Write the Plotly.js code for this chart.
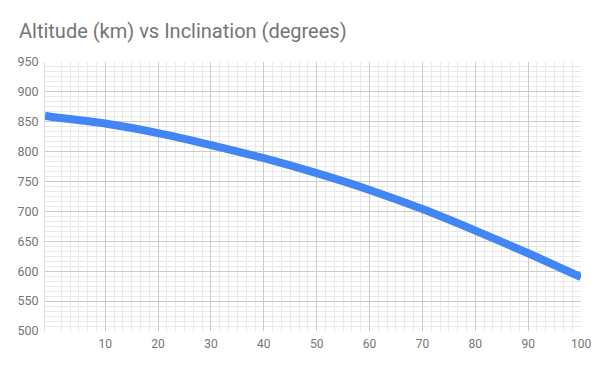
<!DOCTYPE html>
<html>
<head>
<meta charset="utf-8">
<script src="https://cdn.plot.ly/plotly-3.0.1.min.js"></script>
<style>html,body{margin:0;padding:0;background:#fff;}#chart{width:600px;height:371px;}</style>
</head>
<body>
<div id="chart"></div>
<script>
// Data
const inclination = [-1.4, 0, 10, 20, 30, 40, 50, 60, 70, 80, 90, 100];
const altitude    = [860, 858, 847, 831, 811, 789, 764, 736, 704, 668, 630, 590];

const xTickVals = [10, 20, 30, 40, 50, 60, 70, 80, 90, 100];
const xTickText = ['10', '20', '30', '40', '50', '60', '70', '80', '90', '100'];
const yTickVals = [500, 550, 600, 650, 700, 750, 800, 850, 900, 950];

const titleText = 'Altitude (km) vs Inclination (degrees)';

// minor gridlines: five between each pair of major ticks
const xMinor = [];
for (let i = 1; i < 60; i++) { if (i % 6 !== 0) xMinor.push(i * 10 / 6); }
const yMinor = [];
for (let i = 1; i < 54; i++) { if (i % 6 !== 0) yMinor.push(500 + i * 50 / 6); }

const trace = {
  x: inclination,
  y: altitude,
  type: 'scatter',
  mode: 'lines',
  line: { color: '#4285F4', width: 8, shape: 'spline', smoothing: 0.8 },
  hoverinfo: 'skip'
};

const layout = {
  width: 600,
  height: 371,
  paper_bgcolor: '#ffffff',
  plot_bgcolor: '#ffffff',
  margin: { l: 45, r: 19, t: 62, b: 40 },
  showlegend: false,
  font: { family: 'Roboto, Arial, sans-serif', color: '#757575', size: 12 },
  title: {
    text: titleText,
    x: 19 / 600, xanchor: 'left', xref: 'container',
    y: 1 - 31 / 371, yanchor: 'middle', yref: 'container',
    font: { family: 'Roboto, Arial, sans-serif', size: 20, color: '#757575' }
  },
  xaxis: {
    range: [-1.4, 100],
    tickmode: 'array',
    tickvals: xTickVals,
    ticktext: xTickText,
    showgrid: true,
    gridcolor: '#cccccc',
    gridwidth: 1,
    zeroline: false,
    showline: false,
    ticks: '',
    ticklen: 0,
    ticklabelstandoff: 4,
    tickfont: { size: 12, color: '#757575' },
    minor: { tickmode: 'array', tickvals: xMinor, showgrid: true, gridcolor: '#e8e8e8', gridwidth: 1, ticks: '' },
    fixedrange: true
  },
  yaxis: {
    range: [500, 950],
    tickmode: 'array',
    tickvals: yTickVals,
    showgrid: true,
    gridcolor: '#cccccc',
    gridwidth: 1,
    zeroline: false,
    showline: true,
    linecolor: '#e0e0e0',
    linewidth: 1,
    ticks: '',
    ticklen: 0,
    ticklabelstandoff: 3,
    tickfont: { size: 12.5, color: '#757575' },
    minor: { tickmode: 'array', tickvals: yMinor, showgrid: true, gridcolor: '#e8e8e8', gridwidth: 1, ticks: '' },
    fixedrange: true
  }
};

Plotly.newPlot('chart', [trace], layout, { displayModeBar: false, staticPlot: true });
</script>
</body>
</html>
